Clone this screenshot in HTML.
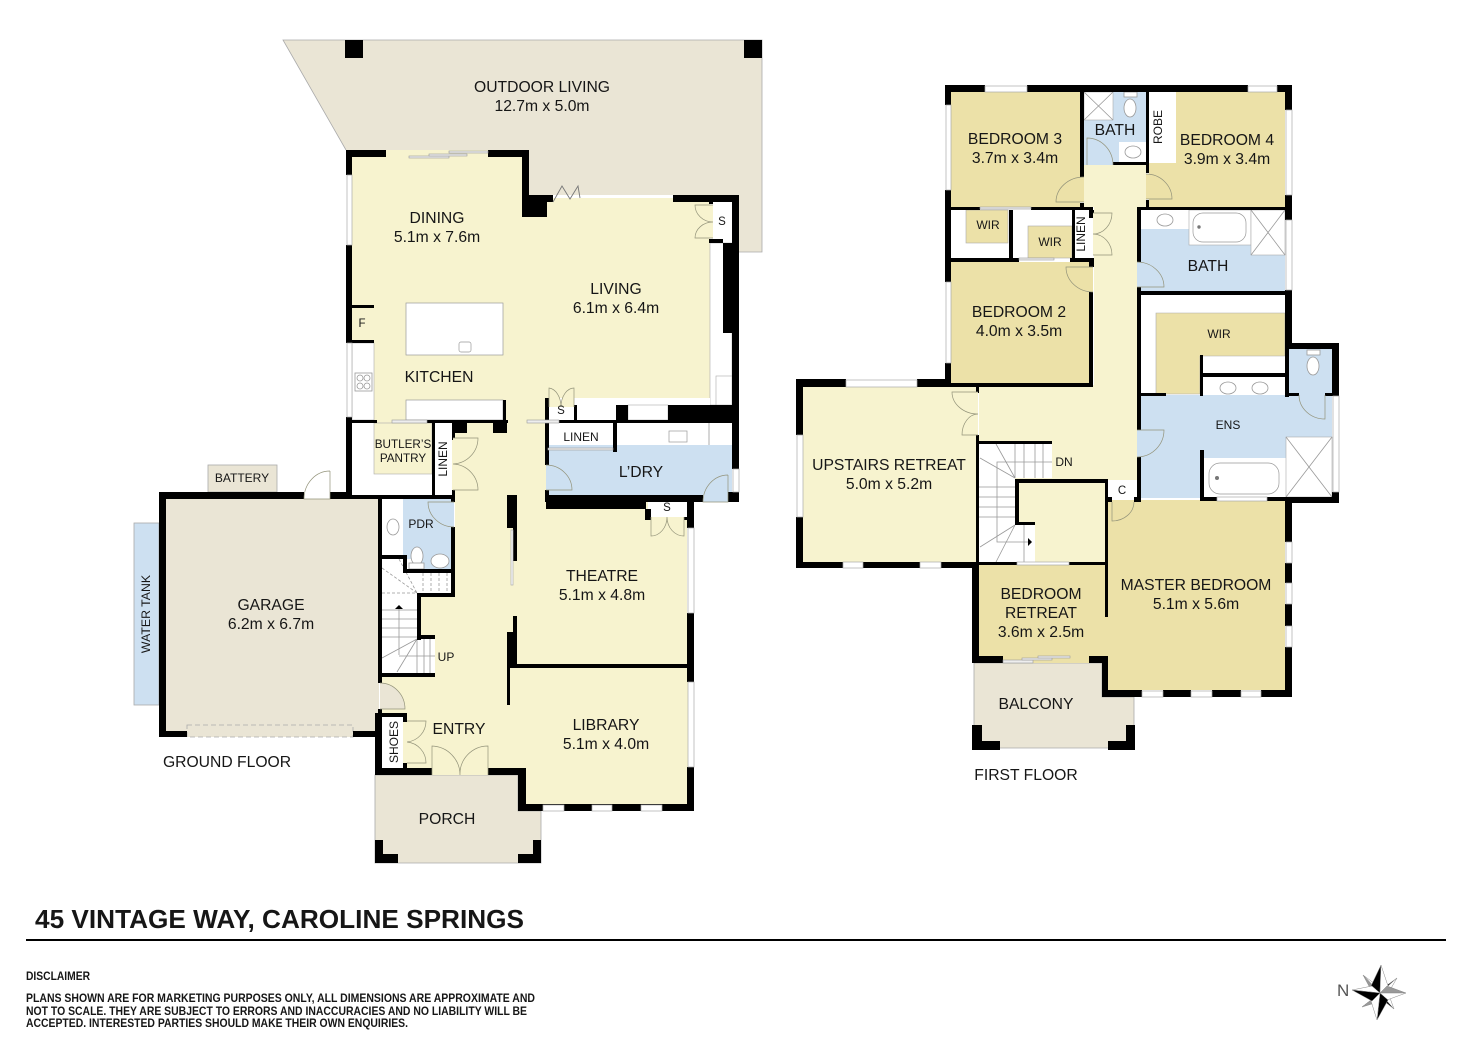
<!DOCTYPE html>
<html><head><meta charset="utf-8"><style>
html,body{margin:0;padding:0;background:#fff}
svg{display:block}
text{font-family:"Liberation Sans",Arial,sans-serif;fill:#161616;text-anchor:middle;font-size:15.7px}
.s{font-size:12px}.xs{font-size:11.5px}
.l{text-anchor:start}
.b{fill:#000}
.w{fill:#fff;stroke:#aaa;stroke-width:.7}
.wh{fill:#fff}
.ln{fill:none;stroke:#999;stroke-width:.8}
.d{stroke:#93937a;stroke-width:.7}
.sl{fill:#eee;stroke:#999;stroke-width:.6}
</style></head><body>
<svg width="1472" height="1041" viewBox="0 0 1472 1041" xmlns="http://www.w3.org/2000/svg">
<rect width="1472" height="1041" fill="#fff"/>

<!-- GROUND FLOOR fills -->
<polygon points="283,40 762,40 762,252 739,252 739,195 529,195 529,150 346,150" fill="#eae5d5"/>
<path d="M346 150L283 40H762V252H739" fill="none" stroke="#aaa" stroke-width=".8"/>
<polygon points="375,775 518,775 518,811 541,811 541,863 375,863" fill="#eae5d5" stroke="#aaa" stroke-width=".8"/>
<rect x="208" y="465" width="69" height="27" fill="#eae5d5" stroke="#aaa" stroke-width=".8"/>
<rect x="134" y="523" width="25" height="182" fill="#cde0f1" stroke="#aaa" stroke-width=".8"/>
<rect x="165" y="498" width="214" height="238" fill="#eae5d5"/>
<rect x="187" y="725" width="166" height="12" fill="#eae5d5" stroke="#aaa" stroke-width=".8" stroke-dasharray="5 3"/>
<!-- main open-plan -->
<g fill="#f7f3cf">
<polygon points="352,150 525,150 525,198 710,198 710,398 547,398 547,423 505,423 505,400 374,400 374,343 352,343"/>
<rect x="374" y="398" width="173" height="25"/>
<rect x="452" y="423" width="95" height="80"/>
<rect x="455" y="500" width="52" height="97"/>
<polygon points="421,597 507,597 507,775 382,775 382,677 435,677 435,639 421,639"/>
<rect x="507" y="498" width="180" height="170"/>
<polygon points="507,665 688,665 688,805 526,805 526,768 507,768"/>
</g>
<!-- whites -->
<rect x="710" y="243" width="22" height="162" class="wh" stroke="#aaa" stroke-width=".6"/>
<rect x="352" y="343" width="22" height="77" class="wh" stroke="#aaa" stroke-width=".6"/>
<rect x="406" y="303" width="97" height="52" class="wh" stroke="#999" stroke-width=".7"/>
<rect x="459" y="342" width="12" height="10" rx="2" class="wh" stroke="#999" stroke-width=".7"/>
<rect x="406" y="400" width="97" height="20" class="wh" stroke="#999" stroke-width=".7"/>
<rect x="577" y="398" width="133" height="7" class="wh"/>
<rect x="628" y="405" width="40" height="15" class="wh" stroke="#999" stroke-width=".5"/>
<rect x="577" y="405" width="39" height="15" class="wh"/>
<rect x="549" y="407" width="25" height="13" class="wh"/>
<rect x="716" y="376" width="16" height="29" class="wh" stroke="#aaa" stroke-width=".6"/>
<rect x="713" y="202" width="19" height="38" class="wh"/>
<rect x="352" y="423" width="22" height="72" class="wh"/>
<rect x="352" y="474" width="80" height="21" class="wh"/>
<rect x="374" y="423" width="58" height="51" fill="#f7f3cf" stroke="#aaa" stroke-width=".6"/>
<rect x="435" y="423" width="17" height="72" class="wh"/>
<rect x="548" y="423" width="65" height="25" class="wh"/>
<rect x="617" y="423" width="115" height="22" class="wh"/>
<rect x="669" y="431" width="18" height="11" class="wh" stroke="#999" stroke-width=".7"/>
<line x1="709" y1="423" x2="709" y2="445" class="ln"/>
<rect x="548" y="445" width="184" height="53" fill="#cde0f1"/>
<rect x="703" y="490" width="25" height="12" fill="#cde0f1"/>
<rect x="613" y="445" width="4" height="7" fill="#cde0f1"/>
<rect x="382" y="499" width="21" height="56" class="wh"/>
<rect x="403" y="499" width="51" height="70" fill="#cde0f1"/>
<rect x="382" y="559" width="35" height="114" class="wh"/>
<rect x="405" y="573" width="46" height="20" class="wh"/>
<rect x="417" y="639" width="18" height="34" class="wh"/>
<rect x="382" y="717" width="21" height="51" class="wh"/>
<rect x="648" y="499" width="39" height="18" class="wh"/>

<!-- ground fixtures -->
<g class="ln">
<rect x="355" y="373" width="17" height="18"/><circle cx="360" cy="378" r="3"/><circle cx="367" cy="378" r="3"/><circle cx="360" cy="386" r="3"/><circle cx="367" cy="386" r="3"/>
<ellipse cx="393" cy="527" rx="6" ry="8"/>
<ellipse cx="417" cy="556" rx="6" ry="9" fill="#fff"/><rect x="409" y="563" width="15" height="6" fill="#fff"/>
<ellipse cx="440" cy="561" rx="9" ry="7" fill="#fff"/>
<path d="M399 655V609M382 610H417M382 619H417M382 628H417M382 637H417M399 656H435M417 639L382 658M417 639L397 672M424 639V673M430 639V673M417 639V673"/>
<path stroke-dasharray="3 2" d="M382 568L417 593M399 559L417 593M382 593H417M423 573V593M431 573V593M439 573V593M447 573V593"/>
</g>
<polygon points="399,605 395,609 403,609" fill="#000"/>

<!-- ground walls -->
<g class="b">
<rect x="346" y="150" width="40" height="7"/><rect x="346" y="150" width="6" height="25"/><rect x="346" y="245" width="6" height="98"/><rect x="346" y="417" width="6" height="78"/>
<rect x="488" y="150" width="41" height="7"/><rect x="522" y="150" width="7" height="67"/><rect x="522" y="195" width="25" height="22"/><rect x="547" y="195" width="6" height="7"/>
<rect x="673" y="195" width="66" height="7"/><rect x="732" y="195" width="7" height="274"/><rect x="723" y="243" width="16" height="90"/><rect x="709" y="239" width="14" height="4"/><rect x="709" y="202" width="4" height="2"/>
<rect x="668" y="405" width="71" height="17"/><rect x="616" y="405" width="12" height="17"/><rect x="547" y="420" width="185" height="3"/>
<rect x="545" y="398" width="4" height="67"/><rect x="574" y="405" width="3" height="17"/><rect x="545" y="490" width="4" height="12"/>
<rect x="613" y="423" width="4" height="29"/>
<rect x="732" y="492" width="7" height="10"/><rect x="728" y="492" width="11" height="10"/>
<rect x="546" y="495" width="157" height="7"/><rect x="546" y="495" width="100" height="14"/><rect x="645" y="509" width="6" height="11"/><rect x="684" y="517" width="3" height="3"/>
<rect x="352" y="305" width="22" height="3"/><rect x="352" y="340" width="22" height="3"/>
<rect x="346" y="420" width="31" height="3"/><rect x="427" y="420" width="81" height="3"/>
<rect x="503" y="400" width="3" height="20"/><rect x="452" y="423" width="15" height="10"/><rect x="493" y="423" width="14" height="10"/>
<rect x="432" y="420" width="3" height="79"/><rect x="452" y="423" width="3" height="17"/><rect x="452" y="490" width="3" height="10"/>
<rect x="159" y="492" width="145" height="7"/><rect x="330" y="492" width="22" height="7"/><rect x="159" y="492" width="7" height="245"/><rect x="159" y="731" width="28" height="6"/><rect x="353" y="731" width="25" height="6"/>
<rect x="346" y="495" width="108" height="4"/>
<rect x="378" y="495" width="4" height="188"/><rect x="378" y="709" width="4" height="28"/><rect x="375" y="713" width="7" height="62"/>
<rect x="382" y="713" width="25" height="4"/><rect x="403" y="713" width="4" height="9"/><rect x="403" y="763" width="4" height="5"/>
<rect x="375" y="768" width="57" height="7"/><rect x="488" y="768" width="38" height="7"/><rect x="518" y="768" width="8" height="43"/><rect x="518" y="804" width="176" height="7"/>
<rect x="687" y="500" width="7" height="28"/><rect x="687" y="613" width="7" height="69"/><rect x="687" y="767" width="7" height="44"/>
<rect x="507" y="495" width="10" height="33"/><rect x="513" y="528" width="4" height="33"/><rect x="513" y="616" width="4" height="17"/><rect x="507" y="632" width="10" height="33"/><rect x="508" y="664" width="186" height="4"/><rect x="507" y="665" width="3" height="40"/>
<rect x="382" y="555" width="23" height="4"/><rect x="403" y="555" width="4" height="17"/><rect x="403" y="569" width="52" height="4"/><rect x="451" y="499" width="4" height="3"/><rect x="451" y="527" width="4" height="70"/><rect x="417" y="593" width="38" height="4"/><rect x="417" y="593" width="4" height="47"/><rect x="417" y="635" width="18" height="4"/><rect x="378" y="673" width="57" height="4"/>
<rect x="345" y="40" width="18" height="18"/><rect x="744" y="40" width="18" height="18"/>
<path d="M375 840h8v14h15v9h-23zM533 840h8v23h-23v-9h15z"/>
</g>
<!-- ground windows -->
<rect x="347" y="175" width="5" height="70" class="w"/><rect x="347" y="343" width="5" height="74" class="w"/>
<rect x="733" y="469" width="6" height="23" class="w"/>
<rect x="688" y="528" width="6" height="85" class="w"/><rect x="688" y="682" width="6" height="85" class="w"/>
<rect x="543" y="805" width="21" height="6" class="w"/><rect x="592" y="805" width="20" height="6" class="w"/><rect x="641" y="805" width="21" height="6" class="w"/>
<rect x="511" y="530" width="2" height="55" class="w"/>
<!-- sliders -->
<rect x="409" y="156" width="40" height="2" class="sl"/><rect x="429" y="154" width="38" height="2" class="sl"/><rect x="449" y="151" width="39" height="2" class="sl"/>
<rect x="392" y="420" width="35" height="3" class="sl"/><rect x="527" y="420" width="32" height="3" class="sl"/>
<rect x="548" y="448" width="65" height="2" class="sl"/>
<path d="M553 202L562 186L570 199L578 186L580 198" fill="none" stroke="#777" stroke-width=".9"/>
<!-- ground doors -->
<g class="d">
<path d="M432 775V746A29 29 0 0 1 460 775M488 775V746A28 28 0 0 0 460 775" fill="#f7f3cf"/>
<path d="M407 721H426A21 21 0 0 1 407 742M407 763H426A21 21 0 0 0 407 742" fill="#f7f3cf"/>
<path d="M453 438H478A26 26 0 0 1 453 464M453 490H478A26 26 0 0 0 453 464" fill="#f7f3cf"/>
<path d="M549 407V388A13 19 0 0 1 561 407M574 407V388A13 19 0 0 0 561 407" fill="#f7f3cf"/>
<path d="M713 205H695A18 17 0 0 0 713 222M713 238H695A18 16 0 0 1 713 222" fill="#f7f3cf"/>
<path d="M546 465A26 25 0 0 1 572 490H546" fill="#cde0f1"/>
<path d="M728 475V502H703A25 27 0 0 1 728 475" fill="#cde0f1"/>
<path d="M330 471V499H304A26 28 0 0 1 330 471" fill="#fff"/>
<path d="M380 683A25 26 0 0 1 405 709H380" fill="#eae5d5"/>
<path d="M454 502H428A26 25 0 0 0 454 527" fill="#cde0f1"/>
<path d="M651 517V536A16 19 0 0 0 667 517M684 517V536A17 19 0 0 1 667 517" fill="#f7f3cf"/>
</g>

<!-- FIRST FLOOR fills -->
<polygon points="974,663 1102,663 1102,697 1134,697 1134,748 974,748" fill="#eae5d5" stroke="#aaa" stroke-width=".8"/>
<rect x="951" y="92" width="129" height="115" fill="#ece1a8"/>
<polygon points="1176,92 1285,92 1285,207 1149,207 1149,163 1176,163" fill="#ece1a8"/>
<rect x="1149" y="92" width="23" height="70" class="wh"/>
<rect x="1084" y="92" width="62" height="73" fill="#cde0f1"/>
<rect x="1084" y="92" width="29" height="28" class="wh" stroke="#aaa" stroke-width=".6"/><path d="M1084 92L1113 120M1113 92L1084 120" class="ln"/>
<rect x="1119" y="142" width="27" height="20" class="wh"/>
<polygon points="1084,165 1146,165 1146,207 1137,207 1137,385 1094,385 1094,207 1084,207" fill="#f7f3cf"/>
<rect x="979" y="385" width="158" height="95" fill="#f7f3cf"/>
<rect x="951" y="210" width="58" height="50" class="wh"/><rect x="966" y="210" width="42" height="33" fill="#ece1a8" stroke="#aaa" stroke-width=".6"/>
<rect x="1013" y="210" width="59" height="50" class="wh"/><rect x="1028" y="226" width="44" height="32" fill="#ece1a8" stroke="#aaa" stroke-width=".6"/>
<rect x="1074" y="217" width="15" height="41" class="wh"/>
<rect x="951" y="262" width="138" height="121" fill="#ece1a8"/>
<rect x="803" y="387" width="173" height="175" fill="#f7f3cf"/>
<rect x="979" y="443" width="73" height="35" class="wh"/><rect x="979" y="478" width="36" height="84" class="wh"/><rect x="1015" y="525" width="20" height="37" class="wh"/>
<polygon points="1019,483 1105,483 1105,562 1035,562 1035,525 1019,525" fill="#f7f3cf"/>
<rect x="979" y="565" width="126" height="91" fill="#ece1a8"/><rect x="1089" y="617" width="30" height="39" fill="#ece1a8"/>
<rect x="1108" y="500" width="177" height="190" fill="#ece1a8"/>
<rect x="979" y="656" width="123" height="7" fill="#ece1a8"/>
<rect x="1141" y="210" width="144" height="81" fill="#cde0f1"/>
<rect x="1141" y="210" width="49" height="19" class="wh"/><rect x="1189" y="210" width="62" height="35" class="wh" stroke="#aaa" stroke-width=".6"/><rect x="1251" y="210" width="34" height="45" class="wh" stroke="#aaa" stroke-width=".6"/>
<path d="M1251 210L1285 255M1285 210L1251 255" class="ln"/>
<rect x="1193" y="213" width="53" height="29" rx="10" fill="#fff" stroke="#999" stroke-width=".7"/>
<rect x="1141" y="295" width="144" height="99" class="wh"/>
<polygon points="1156,313 1285,313 1285,356 1200,356 1200,394 1156,394" fill="#ece1a8" stroke="#aaa" stroke-width=".6"/>
<rect x="1203" y="377" width="82" height="19" class="wh"/>
<rect x="1289" y="349" width="43" height="46" fill="#cde0f1"/>
<rect x="1140" y="395" width="192" height="103" fill="#cde0f1"/>
<rect x="1204" y="458" width="82" height="39" class="wh"/>
<rect x="1286" y="437" width="46" height="60" class="wh" stroke="#aaa" stroke-width=".6"/><path d="M1286 437L1332 497M1332 437L1286 497" class="ln"/>
<rect x="1209" y="463" width="70" height="31" rx="11" fill="#fff" stroke="#999" stroke-width=".7"/>
<rect x="1109" y="483" width="28" height="14" class="wh"/>
<!-- first fixtures -->
<g class="ln">
<ellipse cx="1130" cy="108" rx="6" ry="9" fill="#fff"/><rect x="1124" y="92" width="13" height="5" fill="#fff"/>
<ellipse cx="1133" cy="152" rx="8" ry="6" fill="#fff"/>
<ellipse cx="1165" cy="220" rx="8" ry="6" fill="#fff"/>
<ellipse cx="1228" cy="388" rx="8" ry="6" fill="#fff"/><ellipse cx="1260" cy="388" rx="8" ry="6" fill="#fff"/>
<ellipse cx="1313" cy="366" rx="6" ry="9" fill="#fff"/><rect x="1307" y="350" width="13" height="5" fill="#fff"/>
<path d="M1015 444V478M1024 444V478M1035 444V478M1043 444V478M996 444L1015 478M980 458L1015 478M979 487H1015M979 497H1015M979 507H1015M979 517H1015M1015 525L980 547M1015 525L996 562M1024 525V562M1052 462H997V542H1028"/>
</g>
<polygon points="1032,542 1028,538 1028,546" fill="#000"/>
<circle cx="1199" cy="227" r="1.7" fill="#777"/><circle cx="1217" cy="478" r="2" fill="#777"/>
<!-- first walls -->
<g class="b">
<rect x="945" y="85" width="40" height="7"/><rect x="1027" y="85" width="221" height="7"/><rect x="1277" y="85" width="15" height="7"/>
<rect x="945" y="85" width="6" height="20"/><rect x="945" y="190" width="6" height="92"/><rect x="945" y="363" width="6" height="24"/>
<rect x="1285" y="85" width="7" height="25"/><rect x="1285" y="195" width="7" height="25"/><rect x="1285" y="290" width="7" height="54"/>
<rect x="1285" y="343" width="54" height="6"/><rect x="1285" y="343" width="4" height="54"/><rect x="1332" y="343" width="7" height="53"/>
<rect x="1080" y="92" width="4" height="85"/><rect x="1080" y="203" width="4" height="7"/><rect x="1146" y="92" width="3" height="81"/><rect x="1146" y="200" width="3" height="7"/>
<rect x="1113" y="162" width="36" height="3"/><rect x="1146" y="162" width="3" height="3"/>
<rect x="951" y="207" width="29" height="3"/><rect x="1031" y="207" width="62" height="3"/><rect x="1137" y="207" width="155" height="3"/>
<rect x="1009" y="210" width="4" height="50"/><rect x="951" y="258" width="68" height="4"/><rect x="1070" y="258" width="24" height="4"/>
<rect x="1072" y="210" width="3" height="48"/><rect x="1089" y="210" width="5" height="8"/><rect x="1089" y="258" width="5" height="9"/><rect x="1089" y="292" width="4" height="95"/>
<rect x="945" y="383" width="148" height="4"/>
<rect x="796" y="379" width="50" height="8"/><rect x="917" y="379" width="34" height="8"/><rect x="796" y="379" width="7" height="56"/><rect x="796" y="517" width="7" height="51"/>
<rect x="796" y="562" width="47" height="6"/><rect x="863" y="562" width="57" height="6"/><rect x="941" y="562" width="38" height="6"/>
<rect x="976" y="387" width="3" height="6"/><rect x="976" y="435" width="3" height="130"/><rect x="976" y="441" width="76" height="3"/>
<rect x="1015" y="479" width="4" height="46"/><rect x="1015" y="479" width="93" height="4"/><rect x="1015" y="522" width="20" height="3"/>
<rect x="976" y="562" width="41" height="3"/><rect x="1069" y="562" width="38" height="3"/>
<rect x="1105" y="483" width="3" height="134"/>
<rect x="972" y="562" width="7" height="101"/><rect x="972" y="656" width="31" height="7"/><rect x="1089" y="656" width="19" height="7"/><rect x="1102" y="656" width="6" height="41"/>
<rect x="1102" y="690" width="40" height="7"/><rect x="1163" y="690" width="28" height="7"/><rect x="1212" y="690" width="29" height="7"/><rect x="1261" y="690" width="31" height="7"/>
<rect x="1285" y="497" width="54" height="6"/><rect x="1332" y="492" width="7" height="11"/>
<rect x="1285" y="497" width="7" height="45"/><rect x="1285" y="563" width="7" height="20"/><rect x="1285" y="604" width="7" height="22"/><rect x="1285" y="647" width="7" height="50"/>
<rect x="1200" y="497" width="17" height="4"/><rect x="1267" y="497" width="20" height="4"/>
<rect x="1200" y="450" width="4" height="50"/><rect x="1137" y="210" width="4" height="52"/><rect x="1137" y="287" width="4" height="143"/><rect x="1137" y="457" width="4" height="45"/>
<rect x="1108" y="497" width="4" height="5"/><rect x="1134" y="497" width="7" height="5"/>
<rect x="1137" y="291" width="155" height="4"/>
<rect x="1141" y="393" width="25" height="3"/><rect x="1200" y="355" width="3" height="41"/><rect x="1200" y="373" width="85" height="4"/>
<rect x="1285" y="393" width="14" height="3"/><rect x="1325" y="393" width="7" height="3"/>
<path d="M972 725h10v16h18v9h-28zM1126 725h9v25h-27v-9h18z"/>
</g>
<!-- first windows -->
<rect x="985" y="86" width="42" height="6" class="w"/><rect x="1248" y="86" width="29" height="6" class="w"/>
<rect x="946" y="105" width="5" height="85" class="w"/><rect x="946" y="282" width="5" height="81" class="w"/>
<rect x="1286" y="110" width="6" height="85" class="w"/><rect x="1286" y="220" width="6" height="70" class="w"/>
<rect x="846" y="380" width="71" height="7" class="w"/><rect x="797" y="435" width="6" height="82" class="w"/>
<rect x="843" y="562" width="20" height="6" class="w"/><rect x="920" y="562" width="21" height="6" class="w"/>
<rect x="1017" y="562" width="52" height="3" class="w"/><rect x="1217" y="497" width="50" height="4" class="w"/>
<rect x="1333" y="396" width="6" height="96" class="w"/>
<rect x="1286" y="542" width="6" height="21" class="w"/><rect x="1286" y="583" width="6" height="21" class="w"/><rect x="1286" y="626" width="6" height="21" class="w"/>
<rect x="1142" y="691" width="21" height="6" class="w"/><rect x="1191" y="691" width="21" height="6" class="w"/><rect x="1241" y="691" width="20" height="6" class="w"/>
<rect x="1003" y="660" width="30" height="3" class="sl"/><rect x="1022" y="658" width="30" height="2" class="sl"/><rect x="1038" y="656" width="32" height="2" class="sl"/>
<rect x="980" y="207" width="51" height="2" class="sl"/><rect x="1019" y="258" width="35" height="2" class="sl"/>
<!-- first doors -->
<g class="d">
<path d="M1084 202H1056A28 25 0 0 1 1084 177" fill="#ece1a8"/>
<path d="M1146 199H1172A26 25 0 0 0 1146 174" fill="#ece1a8"/>
<path d="M1087 165V138A26 27 0 0 1 1113 165" fill="#cde0f1"/>
<path d="M1093 213H1112A19 21 0 0 1 1093 234M1093 255H1112A19 21 0 0 0 1093 234" fill="#f7f3cf"/>
<path d="M1093 267H1066A27 25 0 0 0 1093 292" fill="#ece1a8"/>
<path d="M1137 287H1164A27 25 0 0 0 1137 262" fill="#cde0f1"/>
<path d="M1137 430H1164A27 27 0 0 1 1137 457" fill="#cde0f1"/>
<path d="M1325 395V419A26 24 0 0 1 1299 395" fill="#cde0f1"/>
<path d="M978 392H952A26 22 0 0 0 978 414M978 435H962A16 21 0 0 1 978 414" fill="#f7f3cf"/>
<path d="M1112 502V521A22 19 0 0 0 1134 502" fill="#ece1a8"/>
</g>

<!-- labels ground -->
<text x="542" y="92">OUTDOOR LIVING</text><text x="542" y="111">12.7m x 5.0m</text>
<text x="437" y="223">DINING</text><text x="437" y="242">5.1m x 7.6m</text>
<text x="616" y="294">LIVING</text><text x="616" y="313">6.1m x 6.4m</text>
<text x="439" y="382">KITCHEN</text>
<text x="362" y="327" class="xs">F</text><text x="722" y="225" class="xs">S</text><text x="561" y="414" class="xs">S</text><text x="667" y="511" class="xs">S</text>
<text x="581" y="441" class="s">LINEN</text><text x="641" y="477">L’DRY</text>
<text x="403" y="448" style="font-size:11.7px">BUTLER’S</text><text x="403" y="462" style="font-size:11.7px">PANTRY</text>
<text transform="translate(447,459) rotate(-90)" class="s">LINEN</text>
<text x="421" y="528" class="s">PDR</text>
<text x="271" y="610">GARAGE</text><text x="271" y="629">6.2m x 6.7m</text>
<text transform="translate(150,614) rotate(-90)" style="font-size:12.3px">WATER TANK</text>
<text x="242" y="482" class="s">BATTERY</text>
<text x="602" y="581">THEATRE</text><text x="602" y="600">5.1m x 4.8m</text>
<text x="606" y="730">LIBRARY</text><text x="606" y="749">5.1m x 4.0m</text>
<text x="459" y="734">ENTRY</text>
<text transform="translate(398,742) rotate(-90)" class="s">SHOES</text>
<text x="447" y="824">PORCH</text>
<text x="227" y="767">GROUND FLOOR</text>
<text x="446" y="661" class="s">UP</text>
<!-- labels first -->
<text x="1015" y="144">BEDROOM 3</text><text x="1015" y="163">3.7m x 3.4m</text>
<text x="1115" y="135">BATH</text>
<text transform="translate(1162,127) rotate(-90)" class="s">ROBE</text>
<text x="1227" y="145">BEDROOM 4</text><text x="1227" y="164">3.9m x 3.4m</text>
<text x="988" y="229" class="s">WIR</text><text x="1050" y="246" class="s">WIR</text>
<text transform="translate(1085,234) rotate(-90)" class="s">LINEN</text>
<text x="1208" y="271">BATH</text>
<text x="1019" y="317">BEDROOM 2</text><text x="1019" y="336">4.0m x 3.5m</text>
<text x="1219" y="338" class="s">WIR</text><text x="1228" y="429" class="s">ENS</text>
<text x="889" y="470">UPSTAIRS RETREAT</text><text x="889" y="489">5.0m x 5.2m</text>
<text x="1064" y="466" class="s">DN</text><text x="1122" y="494" class="xs">C</text>
<text x="1041" y="599">BEDROOM</text><text x="1041" y="618">RETREAT</text><text x="1041" y="637">3.6m x 2.5m</text>
<text x="1196" y="590">MASTER BEDROOM</text><text x="1196" y="609">5.1m x 5.6m</text>
<text x="1036" y="709">BALCONY</text>
<text x="1026" y="780">FIRST FLOOR</text>

<!-- footer -->
<text x="35" y="928" class="l" style="font-size:26px;font-weight:bold" textLength="489" lengthAdjust="spacingAndGlyphs">45 VINTAGE WAY, CAROLINE SPRINGS</text>
<rect x="26" y="939" width="1420" height="2" fill="#000"/>
<text x="26" y="980" class="l" style="font-size:11.5px;font-weight:bold" textLength="64" lengthAdjust="spacingAndGlyphs">DISCLAIMER</text>
<text x="26" y="1002" class="l" style="font-size:11.5px;font-weight:bold" textLength="509" lengthAdjust="spacingAndGlyphs">PLANS SHOWN ARE FOR MARKETING PURPOSES ONLY, ALL DIMENSIONS ARE APPROXIMATE AND</text>
<text x="26" y="1015" class="l" style="font-size:11.5px;font-weight:bold" textLength="501" lengthAdjust="spacingAndGlyphs">NOT TO SCALE. THEY ARE SUBJECT TO ERRORS AND INACCURACIES AND NO LIABILITY WILL BE</text>
<text x="26" y="1027" class="l" style="font-size:11.5px;font-weight:bold" textLength="382" lengthAdjust="spacingAndGlyphs">ACCEPTED. INTERESTED PARTIES SHOULD MAKE THEIR OWN ENQUIRIES.</text>
<!-- compass -->
<text x="1337" y="996" class="l" style="font-size:17px;fill:#555">N</text>
<g stroke="#888" stroke-width=".5">
<polygon points="1380,993 1363,975 1375,984" fill="#fff"/><polygon points="1380,993 1363,975 1370,988" fill="#999"/>
<polygon points="1380,993 1397,978 1386,986" fill="#000"/><polygon points="1380,993 1397,978 1390,990" fill="#fff"/>
<polygon points="1380,993 1362,1007 1372,1000" fill="#fff"/><polygon points="1380,993 1362,1007 1375,1003" fill="#999"/>
<polygon points="1380,993 1394,1009 1384,1001" fill="#000"/><polygon points="1380,993 1394,1009 1390,998" fill="#fff"/>
<polygon points="1380,993 1381,965 1371,986" fill="#000"/><polygon points="1380,993 1381,965 1388,986" fill="#fff"/>
<polygon points="1380,993 1406,993 1387,986" fill="#999"/><polygon points="1380,993 1406,993 1387,1000" fill="#fff"/>
<polygon points="1380,993 1377,1020 1388,1000" fill="#000"/><polygon points="1380,993 1377,1020 1371,1001" fill="#fff"/>
<polygon points="1380,993 1352,990 1372,986" fill="#fff"/><polygon points="1380,993 1352,990 1372,1001" fill="#000"/>
</g>
</svg>
</body></html>
